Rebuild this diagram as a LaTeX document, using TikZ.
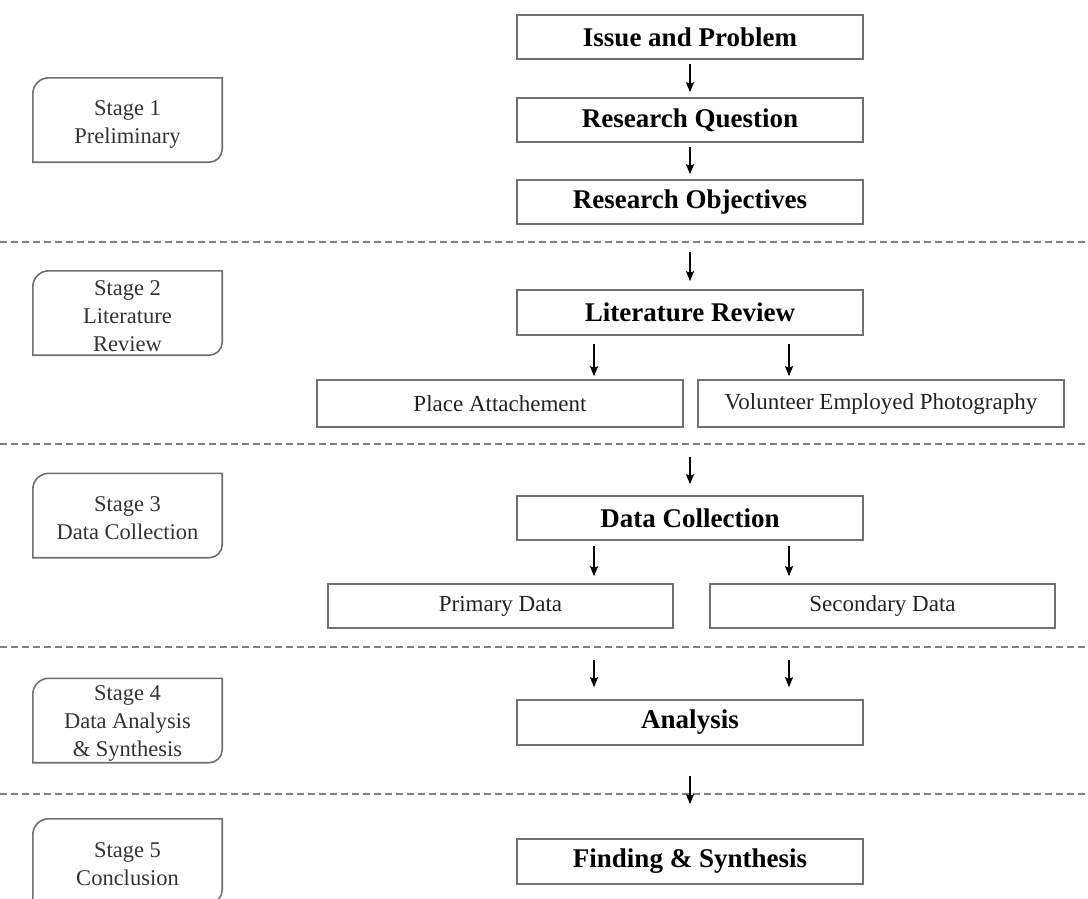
\documentclass[tikz,border=0pt]{standalone}
\usepackage{fontspec}
\setmainfont{Liberation Serif}
\usetikzlibrary{arrows.meta}
\definecolor{boxgray}{HTML}{707070}
\definecolor{stagetext}{HTML}{333333}
\definecolor{subtext}{HTML}{222222}
\definecolor{dashgray}{HTML}{808080}
\tikzset{
  mainbox/.style={draw=boxgray, line width=1.6pt, minimum width=346pt, minimum height=44pt, inner sep=0pt,
    font=\bfseries\fontsize{27}{30}\selectfont},
  subbox/.style={draw=boxgray, line width=1.6pt, minimum height=46pt, inner sep=0pt, text=subtext,
    font=\fontsize{23}{26}\selectfont},
  stagebox/.style={minimum width=189pt, minimum height=84pt, inner sep=0pt, align=center, text=stagetext,
    font=\fontsize{22.5}{28}\selectfont},
  stagetxt/.style={align=center, text=stagetext, inner sep=0pt, font=\fontsize{22.5}{28}\selectfont},
  stageline/.style={draw=boxgray, line width=1.6pt},
  arr/.style={-{Stealth[length=10pt,width=8pt,inset=1.5pt]}, line width=1.4pt, black},
  divider/.style={draw=dashgray, line width=1.5pt, dash pattern=on 7pt off 4pt}
}
\begin{document}
\begin{tikzpicture}[x=1pt,y=-1pt]
\useasboundingbox (0,0) rectangle (1088,898);
% dividers
\draw[divider] (0,242) -- (1088,242);
\draw[divider] (0,444) -- (1088,444);
\draw[divider] (0,647) -- (1088,647);
\draw[divider] (0,794) -- (1088,794);
% stage boxes
\node[stagebox] (s1) at (127.5,120) {};
\node[stagebox] (s2) at (127.5,313) {};
\node[stagebox] (s3) at (127.5,515.5) {};
\node[stagebox] (s4) at (127.5,720.5) {};
\node[stagebox] (s5) at (127.5,861) {};
\node[stagetxt] (t1) at ([yshift=-4pt]s1.center) {Stage 1\\Preliminary};
\node[stagetxt] (t2) at ([yshift=-3pt]s2.center) {Stage 2\\Literature\\Review};
\node[stagetxt] (t3) at ([yshift=-3pt]s3.center) {Stage 3\\Data Collection};
\node[stagetxt] (t4) at ([yshift=-3pt]s4.center) {Stage 4\\Data Analysis\\\& Synthesis};
\node[stagetxt] (t5) at ([yshift=-3pt]s5.center) {Stage 5\\Conclusion};
\foreach \s in {s1,s2,s3,s4,s5}{
  \draw[stageline] ([yshift=-16pt]\s.north west) arc[start angle=180,end angle=90,radius=16pt]
    -- (\s.north east) -- ([yshift=13pt]\s.south east) arc[start angle=0,end angle=-90,radius=13pt]
    -- (\s.south west) -- cycle;
}
% main boxes
\node[mainbox] (issue) at (690,37) {Issue and Problem};
\node[mainbox] (rq) at (690,120) {Research Question};
\node[mainbox] (ro) at (690,202) {Research Objectives};
\node[mainbox, minimum height=45pt] (lr) at (690,312.5) {Literature Review};
\node[subbox, minimum width=366pt, minimum height=47pt] (pa) at (500,403.5) {Place Attachement};
\node[subbox, minimum width=366pt, minimum height=47pt] (vep) at (881,403.5) {Volunteer Employed Photography};
\node[mainbox] (dc) at (690,518) {Data Collection};
\node[subbox, minimum width=345pt, minimum height=44pt] (pd) at (500.5,606) {Primary Data};
\node[subbox, minimum width=345pt, minimum height=44pt] (sd) at (882.5,606) {Secondary Data};
\node[mainbox, minimum height=45pt] (an) at (690,722.5) {Analysis};
\node[mainbox, minimum height=45pt] (fs) at (690,861.5) {Finding \& Synthesis};
% arrows
\draw[arr] ([yshift=-4pt]issue.south) -- ([yshift=5pt]rq.north);
\draw[arr] ([yshift=-4pt]rq.south) -- ([yshift=5pt]ro.north);
\draw[arr] ([yshift=-27pt]ro.south) -- ([yshift=8pt]lr.north);
\draw[arr] ([xshift=-96pt,yshift=-8pt]lr.south) -- ([xshift=94pt,yshift=3pt]pa.north);
\draw[arr] ([xshift=99pt,yshift=-8pt]lr.south) -- ([xshift=-92pt,yshift=3pt]vep.north);
\draw[arr] ([yshift=-121pt]lr.south) -- ([yshift=11pt]dc.north);
\draw[arr] ([xshift=-96pt,yshift=-5pt]dc.south) -- ([xshift=93.5pt,yshift=7pt]pd.north);
\draw[arr] ([xshift=99pt,yshift=-5pt]dc.south) -- ([xshift=-93.5pt,yshift=7pt]sd.north);
\draw[arr] ([xshift=93.5pt,yshift=-31pt]pd.south) -- ([xshift=-96pt,yshift=12pt]an.north);
\draw[arr] ([xshift=-93.5pt,yshift=-31pt]sd.south) -- ([xshift=99pt,yshift=12pt]an.north);
\draw[arr] ([yshift=-30pt]an.south) -- ([yshift=34pt]fs.north);
\end{tikzpicture}
\end{document}
